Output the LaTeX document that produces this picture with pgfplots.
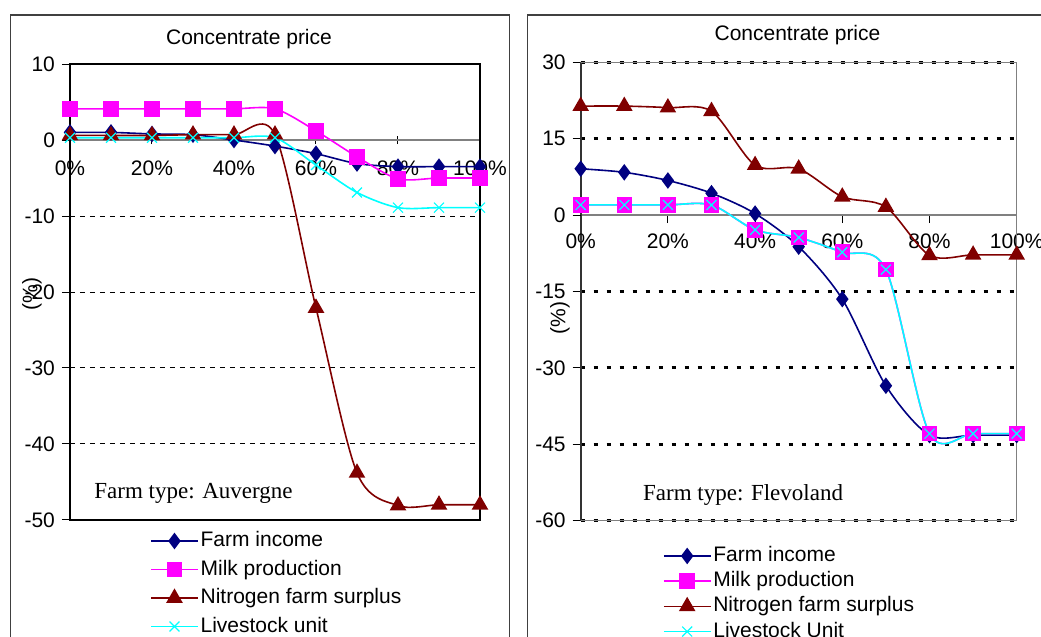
\documentclass[border=0pt]{standalone}
\usepackage{fontspec}
\setmainfont{Liberation Sans}
\newfontfamily\seriffont{Liberation Serif}
\usepackage{pgfplots}
\pgfplotsset{compat=1.18}
\definecolor{cfi}{HTML}{000080}
\definecolor{cmp}{HTML}{FF00FF}
\definecolor{cns}{HTML}{800000}
\definecolor{clu}{HTML}{00FFFF}
\definecolor{cframe}{HTML}{404040}
\newcommand\fs{\fontsize{10.5}{12.6}\selectfont}

\pgfplotsset{
  panel/.style={
    scale only axis, anchor=south west,
    xmin=0, xmax=100,
    axis x line=middle, axis y line=left,
    axis line style={-},
    x axis line style={color=gray, line width=0.75pt},
    y axis line style={black, line width=0.75pt},
    hide obscured x ticks=false, hide obscured y ticks=false,
    xtick={0,20,...,100},
    xticklabels={0\%,20\%,40\%,60\%,80\%,100\%},
    tick label style={font=\fs},
    /pgf/number format/assume math mode=true,
    tick style={black, line width=0.5pt},
    major tick length=4pt,
    ymajorgrids,
    extra y ticks={0}, extra y tick style={grid=none},
    clip=false,
    legend cell align=left,
    legend style={draw=none, fill=none, font=\fs, inner sep=0pt, anchor=north west,
      nodes={inner sep=1pt, text height=7.5pt, text depth=2pt}},
    legend image code/.code={\draw[mark repeat=2,mark phase=2] plot coordinates {(0cm,0cm) (0.41cm,0cm) (0.82cm,0cm)};},
  },
  sfi/.style={color=cfi, line width=0.8pt, smooth, mark=diamond*, mark size=3.5pt, mark options={solid, fill=cfi}},
  smp/.style={color=cmp, line width=0.8pt, smooth, mark=square*, mark size=3.5pt, mark options={solid, fill=cmp}},
  sns/.style={color=cns, line width=0.8pt, smooth, mark=triangle*, mark size=4pt, mark options={solid, fill=cns}},
  slu/.style={color=clu, line width=0.8pt, smooth, mark=x, mark size=3.5pt, mark options={solid, line width=0.6pt}},
}

\begin{document}
\begin{tikzpicture}
% panel frames
\draw[cframe, line width=0.75pt] (5.35pt,0pt) -- (5.35pt,311pt) -- (254.65pt,311pt) -- (254.65pt,0pt);
\draw[cframe, line width=0.75pt] (263.85pt,0pt) -- (263.85pt,311pt) -- (520.5pt,311pt);

% ---------------- Left panel: Auvergne ----------------
\begin{axis}[panel, at={(35pt,58.5pt)}, width=205pt, height=228pt,
  ymin=-50, ymax=10, ytick={-50,-40,-30,-20,-10,10},
  xtick align=center, ytick align=outside,
  xticklabel style={yshift=-5pt},
  major grid style={black, line width=0.5pt, dash pattern=on 2.5pt off 2.5pt},
  legend style={at={(0.195,-0.02)}, row sep=2.75pt}]
\draw[black, line width=0.75pt] (rel axis cs:0,0) rectangle (rel axis cs:1,1);
\addplot[sfi] coordinates {(0,1.0)(10,1.0)(20,0.8)(30,0.7)(40,0.0)(50,-0.8)(60,-1.8)(70,-3.1)(80,-3.5)(90,-3.5)(100,-3.5)};
\addlegendentry{Farm income}
\addplot[smp] coordinates {(0,4.1)(10,4.1)(20,4.1)(30,4.1)(40,4.1)(50,4.1)(60,1.2)(70,-2.2)(80,-5.1)(90,-5.0)(100,-5.0)};
\addlegendentry{Milk production}
\addplot[sns] coordinates {(0,0.6)(10,0.6)(20,0.6)(30,0.7)(40,0.7)(50,0.7)(60,-22.1)(70,-43.8)(80,-48.1)(90,-48.0)(100,-48.0)};
\addlegendentry{Nitrogen farm surplus}
\addplot[slu] coordinates {(0,0.3)(10,0.3)(20,0.3)(30,0.3)(40,0.3)(50,0.3)(60,-3.3)(70,-6.9)(80,-8.9)(90,-8.9)(100,-8.9)};
\addlegendentry{Livestock unit}
\end{axis}

% ---------------- Right panel: Flevoland ----------------
\begin{axis}[panel, at={(290.35pt,58.15pt)}, width=218pt, height=229.2pt,
  ymin=-60, ymax=30, ytick={-60,-45,-30,-15,15,30},
  xtick align=outside, ytick align=outside,
  xticklabel style={yshift=-2pt},
  y axis line style={color=black!80, line width=1pt},
  major grid style={black, line width=1.5pt, dash pattern=on 2pt off 4.5pt},
  legend style={at={(0.188,-0.051)}, row sep=1.1pt}]
\draw[gray, line width=0.75pt] (rel axis cs:0,1) -- (rel axis cs:1,1) -- (rel axis cs:1,0) -- (rel axis cs:0,0);
\addplot[sfi] coordinates {(0,9.1)(10,8.4)(20,6.8)(30,4.3)(40,0.3)(50,-6.2)(60,-16.5)(70,-33.5)(80,-43.2)(90,-43.2)(100,-43.2)};
\addlegendentry{Farm income}
\addplot[smp] coordinates {(0,2.0)(10,2.0)(20,2.0)(30,2.0)(40,-2.9)(50,-4.4)(60,-7.3)(70,-10.7)(80,-42.9)(90,-42.9)(100,-42.9)};
\addlegendentry{Milk production}
\addplot[sns] coordinates {(0,21.4)(10,21.4)(20,21.1)(30,20.4)(40,9.8)(50,9.1)(60,3.6)(70,1.6)(80,-7.9)(90,-7.8)(100,-7.8)};
\addlegendentry{Nitrogen farm surplus}
\addplot[slu] coordinates {(0,2.0)(10,2.0)(20,2.0)(30,2.0)(40,-2.9)(50,-4.4)(60,-7.3)(70,-10.7)(80,-42.9)(90,-42.9)(100,-42.9)};
\addlegendentry{Livestock Unit}
\end{axis}

% titles, axis labels, annotations
\node[font=\fs] at (124.5pt,299pt) {Concentrate price};
\node[font=\fs] at (398.75pt,301pt) {Concentrate price};
\node[font=\fs, rotate=90] at (16pt,171.5pt) {(\%)};
\node[font=\fs, rotate=90] at (280pt,159.5pt) {(\%)};
\node[font=\seriffont\fontsize{11.5}{13}\selectfont, anchor=west, inner sep=0pt] at (47pt,72pt) {Farm type: Auvergne};
\node[font=\seriffont\fontsize{11.5}{13}\selectfont, anchor=west, inner sep=0pt] at (321.35pt,71pt) {Farm type: Flevoland};
\pgfresetboundingbox
\useasboundingbox (0,0) rectangle (520.5pt,318.5pt);
\end{tikzpicture}
\end{document}
